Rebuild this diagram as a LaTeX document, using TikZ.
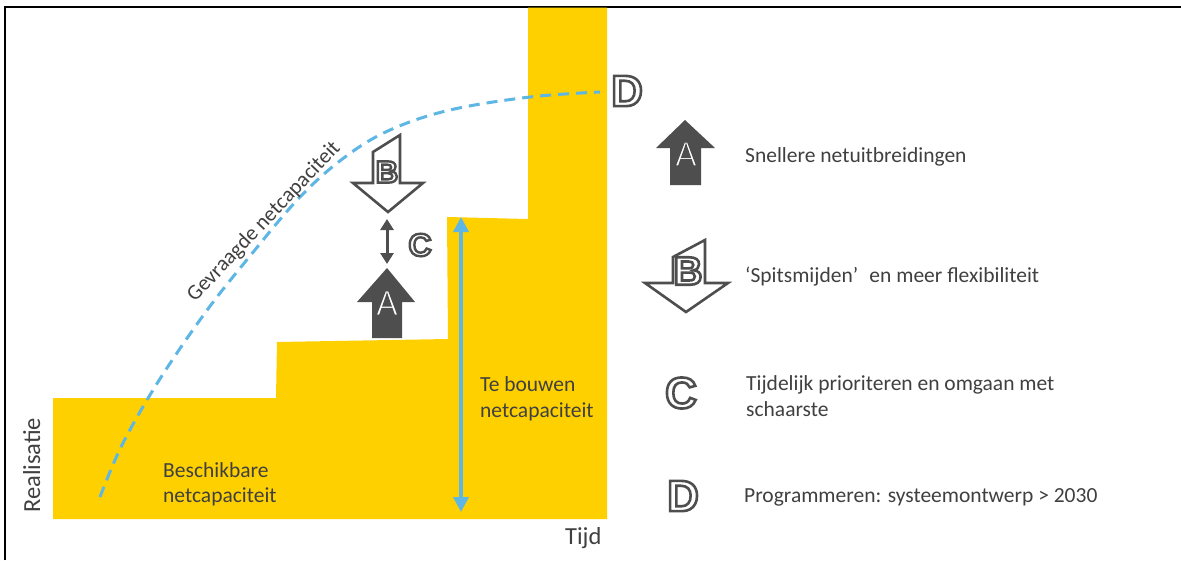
\documentclass[tikz,border=0pt]{standalone}
\usepackage{fontspec}
\setmainfont{Carlito}
\newfontfamily\letterfont{Liberation Sans}
\usetikzlibrary{arrows.meta,calc}

\definecolor{gold}{RGB}{255,208,0}
\definecolor{sky}{RGB}{94,182,229}
\definecolor{ink}{RGB}{64,64,64}
\definecolor{slate}{RGB}{78,78,78}

% fonts for the marker letters
\newcommand\bigmark{\letterfont\bfseries\fontsize{44}{44}\selectfont}
\newcommand\midmark{\letterfont\bfseries\fontsize{40}{40}\selectfont}
\newcommand\smallmark{\letterfont\bfseries\fontsize{32}{32}\selectfont}
\newcommand\tinymark{\letterfont\bfseries\fontsize{31}{31}\selectfont}
\newcommand\arrowmark{\fontsize{38}{38}\selectfont}

% white glyph stroked with a dark rim (PDF text render mode 2)
\newcommand\rimmed[2]{%
  \special{pdf:literal direct 2 Tr #1 w 0.306 0.306 0.306 RG}#2\special{pdf:literal direct 0 Tr}}

\tikzset{
  lbl/.style={font=\fontsize{21.5}{26}\selectfont, text=ink, inner sep=0pt, anchor=base west},
  axislbl/.style={font=\fontsize{24.5}{28}\selectfont, text=ink, inner sep=0pt},
  hollow/.style={draw=slate, fill=white, line width=2.6pt, line join=miter},
  solidarrow/.style={fill=slate},
  letterbadge/.style={text=white, inner sep=0pt},
}

\begin{document}
\begin{tikzpicture}[x=1pt,y=-1pt]
\useasboundingbox (0,0) rectangle (1181,560);
\fill[white] (0,0) rectangle (1181,560);

% frame
\draw[black, line width=1.3pt] (5,560) -- (5,7) -- (1181,7);

% realised capacity: yellow staircase
\fill[gold] (53,519) -- (53,398) -- (276,398) -- (277,342) -- (448,339)
  -- (447,217) -- (528,219) -- (528,7.6) -- (607,7.6) -- (607,519) -- cycle;

% requested capacity curve
\draw[sky, line width=3pt, dash pattern=on 11pt off 7pt]
  plot[smooth, tension=0.6] coordinates {(100,497) (122,445) (158,382) (205,313)
  (250,256) (300,197) (345,157) (390,130) (450,110) (530,97) (600,92)};

% capacity still to be built
\coordinate (bt) at (461,217);
\coordinate (bb) at (461,512);
\draw[sky, line width=4pt,
  {Triangle[width=15pt,length=15pt]}-{Triangle[width=15pt,length=15pt]}] (bt) -- (bb);

% axis labels
\node[axislbl, rotate=90, anchor=base west] (ylab) at (40,513) {Realisatie};
\node[axislbl, anchor=base west] (xlab) at (565,544) {Tijd};

% chart labels
\node[lbl] (bes1) at (163,477) {Beschikbare};
\node[lbl] (bes2) at (163,502) {netcapaciteit};
\node[lbl] (tb1) at (480,391) {Te bouwen};
\node[lbl] (tb2) at (480,417) {netcapaciteit};
\node[lbl, anchor=center, rotate=46.5] (gevr) at (264,222) {Gevraagde netcapaciteit};

% chart markers: B arrow, C double arrow, A arrow
\draw[hollow] (373,152) -- (400,135) -- (400,183) -- (423,183) -- (388,212)
  -- (353,183) -- (373,183) -- cycle;
\node[letterbadge, font=\tinymark] (bm) at (387,172) {\rimmed{2.4}{B}};

\coordinate (ct) at (387,219);
\coordinate (cb) at (387,264);
\draw[slate, line width=3pt,
  {Triangle[width=13pt,length=11pt]}-{Triangle[width=13pt,length=11pt]}] (ct) -- (cb);
\node[letterbadge, font=\smallmark] (cm) at (420,245) {\rimmed{2.4}{C}};

\fill[solidarrow] (387,268) -- (415,302) -- (402,302) -- (402,338) -- (372,338)
  -- (372,302) -- (357,302) -- cycle;
\node[letterbadge, font=\arrowmark] (am) at (387,303) {\rimmed{1.2}{A}};

% demand marker D
\node[letterbadge, font=\bigmark] (dm) at (627,91) {\rimmed{2.6}{D}};

% legend
\fill[solidarrow] (685,120) -- (715,148) -- (701,148) -- (701,185) -- (670,185)
  -- (670,148) -- (656,148) -- cycle;
\node[letterbadge, font=\arrowmark] (la) at (686,154) {\rimmed{1.4}{A}};
\node[lbl] (ta) at (745,162) {Snellere netuitbreidingen};

\draw[hollow] (673,257) -- (705,240) -- (705,283) -- (728,283) -- (686,312)
  -- (645,283) -- (673,283) -- cycle;
\node[letterbadge, font=\midmark] (lb) at (688,271) {\rimmed{2.6}{B}};
\node[lbl] (tbl) at (745,282) {‘Spitsmijden’\hspace{0.3em} en meer flexibiliteit};

\node[letterbadge, font=\bigmark] (lc) at (681,393) {\rimmed{2.6}{C}};
\node[lbl] (tc1) at (746,390) {Tijdelijk prioriteren en omgaan met};
\node[lbl] (tc2) at (746,416) {schaarste};

\node[letterbadge, font=\bigmark] (ld) at (683,496) {\rimmed{2.6}{D}};
\node[lbl] (td) at (744,502) {Programmeren: systeemontwerp > 2030};

\end{tikzpicture}
\end{document}
